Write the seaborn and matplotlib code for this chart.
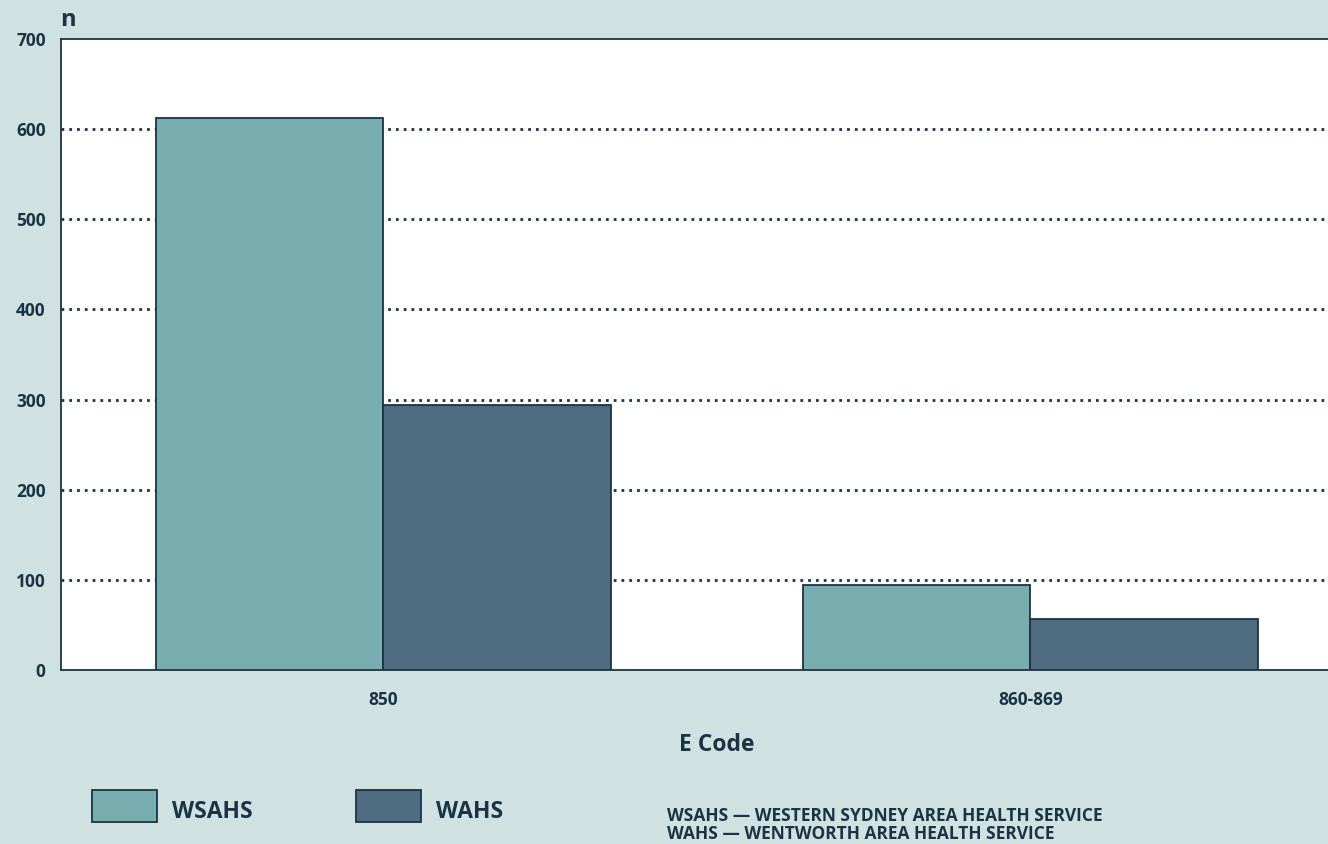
import matplotlib
matplotlib.use("Agg")
import matplotlib.pyplot as plt
from matplotlib.patches import Rectangle
import seaborn as sns
import pandas as pd

codes = ["850", "860-869"]
services = ["WSAHS", "WAHS"]
wsahs_values = [612, 94]
wahs_values = [294, 57]
y_ticks = [0, 100, 200, 300, 400, 500, 600, 700]
footnotes = ["WSAHS — WESTERN SYDNEY AREA HEALTH SERVICE",
             "WAHS — WENTWORTH AREA HEALTH SERVICE"]

df = pd.DataFrame({
    "code": codes * 2,
    "service": [services[0]] * 2 + [services[1]] * 2,
    "n": wsahs_values + wahs_values,
})

BG = "#cfe1e0"
C1 = "#78aeb0"
C2 = "#4f6b7f"
EDGE = "#1d3344"
TXT = "#1b3345"

sns.set_style("white")
plt.rcParams["font.family"] = ["Open Sans", "DejaVu Sans"]
plt.rcParams["font.weight"] = "bold"

W, H = 1328, 844
fig = plt.figure(figsize=(W / 100, H / 100), dpi=100, facecolor=BG)
left = 61 / W
bottom = 1 - 670 / H
top = 1 - 39 / H
ax = fig.add_axes([left, bottom, 1.0 - left, top - bottom])
ax.set_facecolor("white")

sns.barplot(data=df, x="code", y="n", hue="service", order=codes,
            hue_order=services, palette=[C1, C2], saturation=1, width=0.703,
            edgecolor=EDGE, linewidth=1.3, ax=ax, legend=False, zorder=3)

ax.set_xlim(-0.498, 1.46)
ax.set_ylim(0, 700)
ax.set_yticks(y_ticks)
ax.set_yticklabels([str(t) for t in y_ticks])
ax.yaxis.grid(True, color=EDGE, linestyle=(0, (1, 1.8)), linewidth=2.0, zorder=1)
ax.xaxis.grid(False)
ax.set_axisbelow(True)
gl = ax.yaxis.get_gridlines()
gl[0].set_visible(False)
gl[-1].set_visible(False)
ax.tick_params(axis="both", length=0, colors=TXT, labelsize=12.5)
ax.tick_params(axis="y", pad=11)
ax.tick_params(axis="x", pad=15)
for lab in ax.get_xticklabels() + ax.get_yticklabels():
    lab.set_fontweight("bold")
    lab.set_color(TXT)
ax.set_xlabel("")
ax.set_ylabel("")
for s in ["left", "bottom", "top"]:
    ax.spines[s].set_color(EDGE)
    ax.spines[s].set_linewidth(1.3)
ax.spines["right"].set_visible(False)

def fx(px):
    return px / W

def fy(py):
    return 1 - py / H

fig.text(fx(68), fy(20), "n", fontsize=17, fontweight="bold", color=TXT,
         ha="center", va="center")
fig.text(fx(717), fy(745), "E Code", fontsize=16.5, fontweight="bold",
         color=TXT, ha="center", va="center")

# legend
for (x0, col, name, tx) in [(92, C1, services[0], 172), (356, C2, services[1], 436)]:
    fig.patches.append(Rectangle((fx(x0), fy(822)), 65 / W, 32 / H,
                                 transform=fig.transFigure, facecolor=col,
                                 edgecolor=EDGE, linewidth=1.3))
    fig.text(fx(tx), fy(812), name, fontsize=16.5, fontweight="bold",
             color=TXT, ha="left", va="center")

fig.text(fx(667), fy(816), footnotes[0], fontsize=12.5, fontweight="bold",
         color=TXT, ha="left", va="center")
fig.text(fx(667), fy(834), footnotes[1], fontsize=12.5, fontweight="bold",
         color=TXT, ha="left", va="center")

fig.savefig("out.png", dpi=100, facecolor=BG)
